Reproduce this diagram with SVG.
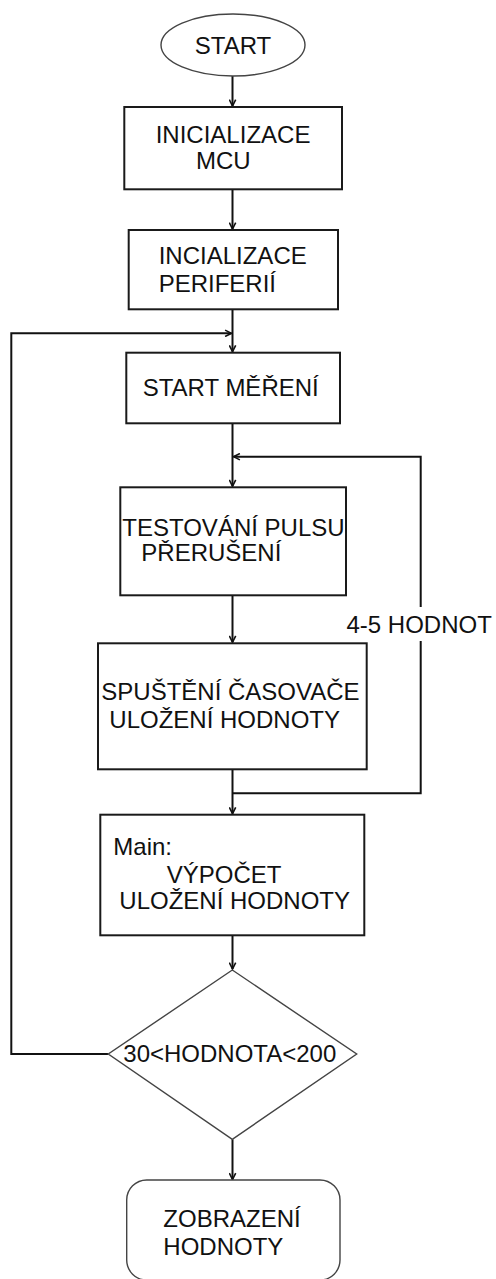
<svg xmlns="http://www.w3.org/2000/svg" width="496" height="1279" viewBox="0 0 496 1279">
<defs>
<marker id="arr" viewBox="0 0 10 10" refX="9" refY="5" markerWidth="8" markerHeight="8" markerUnits="userSpaceOnUse" orient="auto">
<path d="M1,1 L9,5 L1,9" fill="none" stroke="#111" stroke-width="2"/>
</marker>
<style>
.box{fill:#fff;stroke:#1a1a1a;stroke-width:2}
.thin{fill:#fff;stroke:#444;stroke-width:1.4}
.t{font-family:"Liberation Sans",Arial,sans-serif;font-size:24px;fill:#111}
.c{fill:none;stroke:#111;stroke-width:2}
</style>
</defs>
<rect width="496" height="1279" fill="#fff"/>
<g id="connectors">
<path class="c" d="M232.5,76 V106" marker-end="url(#arr)"/>
<path class="c" d="M232.5,189.3 V229" marker-end="url(#arr)"/>
<path class="c" d="M232.5,309.3 V351.7" marker-end="url(#arr)"/>
<path class="c" d="M108.3,1054 H11.3 V333.3 H231.5" marker-end="url(#arr)"/>
<path class="c" d="M232.5,423.3 V486.3" marker-end="url(#arr)"/>
<path class="c" d="M232.5,595.3 V642.3" marker-end="url(#arr)"/>
<path class="c" d="M232.5,769.3 V813.7" marker-end="url(#arr)"/>
<path class="c" d="M232.5,793.3 H420.7 V456.7 H233.5" marker-end="url(#arr)"/>
<path class="c" d="M232.5,935.3 V969" marker-end="url(#arr)"/>
<path class="c" d="M232.5,1139.3 V1179.5" marker-end="url(#arr)"/>
<rect x="346" y="607" width="150" height="34" fill="#fff"/>
<text class="t" x="346.5" y="633.3">4-5 HODNOT</text>
</g>
<g id="start">
<ellipse class="thin" cx="233" cy="45" rx="72" ry="31"/>
<text class="t" x="233" y="54" text-anchor="middle">START</text>
</g>
<g id="init-mcu">
<rect class="box" x="124.3" y="107" width="217.7" height="82.3"/>
<text class="t" x="155.7" y="142.7">INICIALIZACE</text>
<text class="t" x="196" y="169.3">MCU</text>
</g>
<g id="init-periferii">
<rect class="box" x="128.7" y="230" width="209.3" height="79.3"/>
<text class="t" x="158.7" y="264">INCIALIZACE</text>
<text class="t" x="158.7" y="292">PERIFERIÍ</text>
</g>
<g id="start-mereni">
<rect class="box" x="126.3" y="352.7" width="213.7" height="70.6"/>
<text class="t" x="142.7" y="396">START MĚŘENÍ</text>
</g>
<g id="testovani">
<rect class="box" x="120.3" y="487.3" width="225.7" height="108"/>
<text class="t" x="122.3" y="536">TESTOVÁNÍ PULSU</text>
<text class="t" x="141.3" y="560.7">PŘERUŠENÍ</text>
</g>
<g id="spusteni">
<rect class="box" x="98" y="643.3" width="268.7" height="126"/>
<text class="t" x="101.3" y="700">SPUŠTĚNÍ ČASOVAČE</text>
<text class="t" x="109.3" y="728">ULOŽENÍ HODNOTY</text>
</g>
<g id="main">
<rect class="box" x="100.3" y="814.7" width="264" height="120.6"/>
<text class="t" x="113.3" y="855.3">Main:</text>
<text class="t" x="166.7" y="882.7">VÝPOČET</text>
<text class="t" x="119.3" y="909.3">ULOŽENÍ HODNOTY</text>
</g>
<g id="decision">
<polygon class="thin" points="232.3,970 356.7,1054 232.3,1139.3 108.3,1054"/>
<text class="t" x="123.3" y="1061.7">30&lt;HODNOTA&lt;200</text>
</g>
<g id="zobrazeni">
<rect class="thin" x="126.7" y="1180" width="213.3" height="100" rx="20" ry="20"/>
<text class="t" x="163.3" y="1226.7">ZOBRAZENÍ</text>
<text class="t" x="163.3" y="1254.7">HODNOTY</text>
</g>
</svg>
